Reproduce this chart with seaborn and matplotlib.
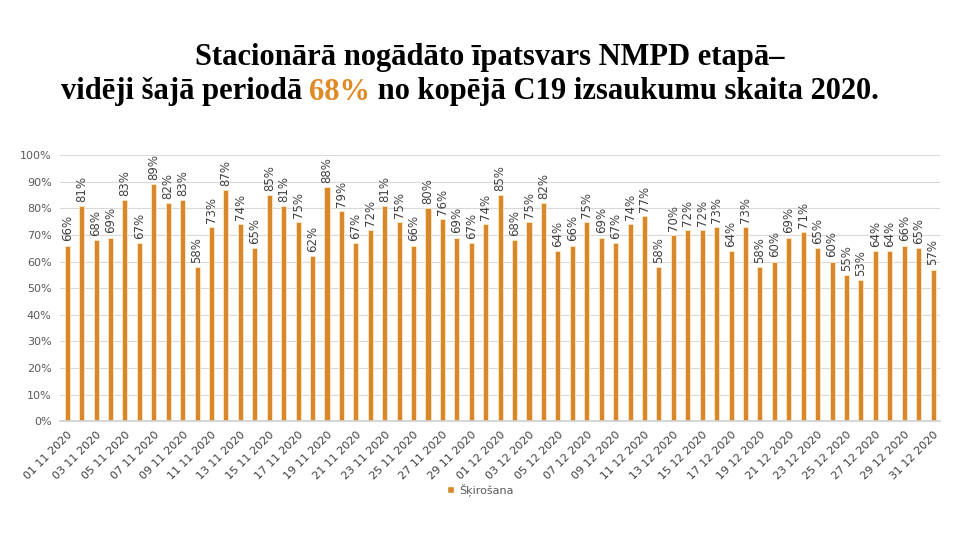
import matplotlib
matplotlib.use("Agg")
import matplotlib.pyplot as plt
import seaborn as sns
import pandas as pd
from matplotlib.patches import Patch
from matplotlib.ticker import PercentFormatter

# ---- data ----
dates = ([f"{d:02d} 11 2020" for d in range(1, 31)]
         + [f"{d:02d} 12 2020" for d in range(1, 32)])
share = [66, 81, 68, 69, 83, 67, 89, 82, 83, 58,
         73, 87, 74, 65, 85, 81, 75, 62, 88, 79,
         67, 72, 81, 75, 66, 80, 76, 69, 67, 74,
         85, 68, 75, 82, 64, 66, 75, 69, 67, 74,
         77, 58, 70, 72, 72, 73, 64, 73, 58, 60,
         69, 71, 65, 60, 55, 53, 64, 64, 66, 65,
         57]
series_name = "Šķirošana"
title_1 = "Stacionārā nogādāto īpatsvars NMPD etapā–"
title_2 = ["vidēji šajā periodā ", "68%", " no kopējā C19 izsaukumu skaita 2020."]

BAR = "#D8882A"
TXT = "#404040"

sns.set_theme(style="white")
plt.rcParams["font.family"] = ["DejaVu Sans"]

df = pd.DataFrame({"date": dates, "share": share})

fig = plt.figure(figsize=(9.6, 5.4), dpi=100)
ax = fig.add_axes([0.0625, 0.22, 0.917, 0.4926])

sns.barplot(data=df, x="date", y="share", color=BAR, saturation=1,
            width=0.35, edgecolor="#FCE8C4", linewidth=0.6, ax=ax)

ax.bar_label(ax.containers[0], labels=[f"{v}%" for v in share],
             rotation=90, padding=3, fontsize=8.5, color=TXT)

ax.set_ylim(0, 100)
ax.set_xlim(-0.5, len(dates) - 0.5)
ax.yaxis.set_major_locator(plt.MultipleLocator(10))
ax.yaxis.set_major_formatter(PercentFormatter(decimals=0))
ax.set_xticks(range(0, len(dates), 2))
ax.set_xticklabels(dates[::2], rotation=45, ha="right",
                   rotation_mode="anchor", fontsize=8, color=TXT)
ax.tick_params(axis="y", labelsize=8, colors="#595959", length=0, pad=6)
ax.tick_params(axis="x", length=0, pad=6)
ax.set_xlabel("")
ax.set_ylabel("")
ax.yaxis.grid(True, color="#D9D9D9", linewidth=0.8)
ax.set_axisbelow(True)
for s in ["left", "top", "right"]:
    ax.spines[s].set_visible(False)
ax.spines["bottom"].set_color("#D0D0D0")

fig.legend(handles=[Patch(facecolor=BAR, label=series_name)],
           loc="center", bbox_to_anchor=(0.5, 0.093), frameon=False,
           fontsize=8, handlelength=0.7, handleheight=0.7, handletextpad=0.4,
           labelcolor="#595959")

# ---- title, second line with the orange figure ----
tfont = dict(family="Liberation Serif", weight="bold", fontsize=22)
fig.text(0.51, 1 - 58 / 540, title_1, ha="center", va="center", color="black", **tfont)

renderer = fig.canvas.get_renderer()
parts = []
for piece in title_2:
    t = fig.text(0, 1 - 92 / 540, piece, ha="left", va="center", **tfont)
    parts.append(t)
widths = [t.get_window_extent(renderer).width for t in parts]
x = 470 - sum(widths) / 2
for t, w, c in zip(parts, widths, ["black", "#E08A26", "black"]):
    t.set_x(x / 960)
    t.set_color(c)
    x += w

fig.savefig("out.png", dpi=100)
